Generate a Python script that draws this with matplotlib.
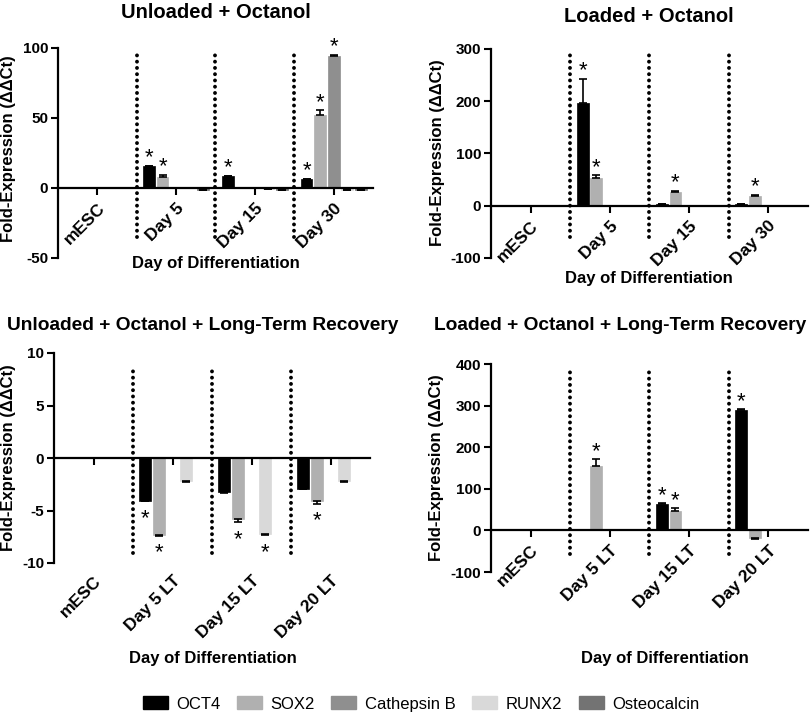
import matplotlib
matplotlib.use("Agg")
import matplotlib.pyplot as plt
from matplotlib.patches import Patch
import numpy as np

plt.rcParams['font.family'] = ['Liberation Sans', 'DejaVu Sans']

genes = ['OCT4', 'SOX2', 'Cathepsin B', 'RUNX2', 'Osteocalcin']
colors = ['#000000', '#b0b0b0', '#8f8f8f', '#d9d9d9', '#737373']

days_a = ['mESC', 'Day 5', 'Day 15', 'Day 30']
days_lt = ['mESC', 'Day 5 LT', 'Day 15 LT', 'Day 20 LT']

# Unloaded + Octanol (rows follow genes)
ul_vals = [[0, 15.5, 8.5, 6.5],
           [0, 8.0, 0, 52.0],
           [0, 0, 0, 94.5],
           [0, 0, -0.8, -1.2],
           [0, -1.2, -1.2, -1.2]]
ul_err = [[0, 0.3, 0.2, 0.2],
          [0, 1.5, 0, 3.5],
          [0, 0, 0, 0.6],
          [0, 0, 0.1, 0.1],
          [0, 0.1, 0.1, 0.1]]
ul_sig = [(1, 0), (1, 1), (2, 0), (3, 0), (3, 1), (3, 2)]

# Loaded + Octanol
lo_vals = [[0, 196, 3.5, 3.5],
           [0, 53, 27, 19],
           [0, 0, 0, 0],
           [0, 0, 0, 0],
           [0, 0, 0, 0]]
lo_err = [[0, 47, 0.3, 0.3],
          [0, 5, 1.5, 2],
          [0, 0, 0, 0],
          [0, 0, 0, 0],
          [0, 0, 0, 0]]
lo_sig = [(1, 0), (1, 1), (2, 1), (3, 1)]

# Unloaded + Octanol + Long-Term Recovery
ult_vals = [[0, -4.07, -3.24, -2.92],
            [0, -7.3, -5.85, -4.12],
            [0, 0, 0, 0],
            [0, -2.2, -7.25, -2.2],
            [0, 0, 0, 0]]
ult_err = [[0, 0.05, 0.05, 0.05],
           [0, 0.1, 0.25, 0.25],
           [0, 0, 0, 0],
           [0, 0.1, 0.1, 0.05],
           [0, 0, 0, 0]]
ult_sig = [(1, 0), (1, 1), (2, 1), (2, 3), (3, 1)]

# Loaded + Octanol + Long-Term Recovery
llt_vals = [[0, 0, 63, 290],
            [0, 154, 47, -18],
            [0, 0, 0, 0],
            [0, 0, 0, 0],
            [0, 0, 0, 0]]
llt_err = [[0, 0, 3, 2],
           [0, 17, 7, 2],
           [0, 0, 0, 0],
           [0, 0, 0, 0],
           [0, 0, 0, 0]]
llt_sig = [(1, 1), (2, 0), (2, 1), (3, 0)]

W, H = 812, 715


def px(x, y):
    return x / W, 1 - y / H


def axrect(x0, y0, x1, y1):
    return [x0 / W, 1 - y1 / H, (x1 - x0) / W, (y1 - y0) / H]


def draw_panel(ax, cats, vals, errs, sig, ylim, yticks, dots, pad):
    x = np.arange(len(cats))
    step, width = 0.172, 0.15
    for k in range(len(genes)):
        v = np.array(vals[k], dtype=float)
        e = np.array(errs[k], dtype=float)
        xs = x + (k - 2) * step
        ax.bar(xs, v, width, color=colors[k], edgecolor=colors[k], linewidth=0.5, zorder=2)
        lo = np.where(v < 0, e, 0)
        hi = np.where(v >= 0, e, 0)
        m = e > 0
        if m.any():
            ax.errorbar(xs[m], v[m], yerr=[lo[m], hi[m]], fmt='none', ecolor='black',
                        elinewidth=1.2, capsize=3, capthick=1.2, zorder=3)
    for g, k in sig:
        v = vals[k][g]
        e = errs[k][g]
        xs = g + (k - 2) * step
        if v >= 0:
            ax.annotate('*', (xs, v + e), xytext=(0, -2), textcoords='offset points',
                        ha='center', va='bottom', fontsize=16, zorder=4)
        else:
            ax.annotate('*', (xs, v - e), xytext=(0, -20), textcoords='offset points',
                        ha='center', va='bottom', fontsize=16, zorder=4)
    for d in [0.5, 1.5, 2.5]:
        ax.axvline(d, ymin=dots[0], ymax=dots[1], color='black', linewidth=2.8,
                   linestyle=(0, (0.01, 1.6)), dash_capstyle='round', zorder=1)
    ax.set_xlim(-0.5, 3.5)
    ax.set_ylim(*ylim)
    ax.spines['top'].set_visible(False)
    ax.spines['right'].set_visible(False)
    ax.spines['bottom'].set_position(('data', 0))
    ax.spines['left'].set_linewidth(1.6)
    ax.spines['bottom'].set_linewidth(1.6)
    ax.tick_params(axis='both', direction='out', length=5, width=1.5)
    ax.tick_params(axis='x', pad=pad)
    ax.tick_params(axis='y', pad=2)
    ax.set_yticks(yticks)
    ax.set_yticklabels([str(t) for t in yticks], fontsize=11, fontweight='bold')
    ax.set_xticks(x)
    ax.set_xticklabels(cats, fontsize=12.5, fontweight='bold')
    for lab in ax.get_xticklabels():
        lab.set_rotation(45)
        lab.set_rotation_mode('anchor')
        lab.set_ha('right')
        lab.set_va('top')


fig = plt.figure(figsize=(W / 100, H / 100), dpi=100)

ax1 = fig.add_axes(axrect(58, 48, 373, 258))
ax2 = fig.add_axes(axrect(491, 49, 808, 258))
ax3 = fig.add_axes(axrect(54, 353, 370, 563))
ax4 = fig.add_axes(axrect(491, 364, 808, 572))

draw_panel(ax1, days_a, ul_vals, ul_err, ul_sig, (-50, 100), [-50, 0, 50, 100], (0.10, 0.98), 4)
draw_panel(ax2, days_a, lo_vals, lo_err, lo_sig, (-100, 300), [-100, 0, 100, 200, 300], (0.10, 0.985), 4)
draw_panel(ax3, days_lt, ult_vals, ult_err, ult_sig, (-10, 10), [-10, -5, 0, 5, 10], (0.048, 0.93), 78)
draw_panel(ax4, days_lt, llt_vals, llt_err, llt_sig, (-100, 400), [-100, 0, 100, 200, 300, 400], (0.087, 0.976), 4)

titles = [('Unloaded + Octanol', 216, 12, 14.5),
          ('Loaded + Octanol', 649, 16, 14.5),
          ('Unloaded + Octanol + Long-Term Recovery', 203, 326, 13.8),
          ('Loaded + Octanol + Long-Term Recovery', 620, 326, 13.8)]
for t, x0, y0, fs in titles:
    fig.text(*px(x0, y0), t, ha='center', va='center', fontsize=fs, fontweight='bold')

for x0, y0 in [(216, 263), (649, 278), (213, 658), (665, 658)]:
    fig.text(*px(x0, y0), 'Day of Differentiation', ha='center', va='center',
             fontsize=12, fontweight='bold')

for x0, y0 in [(9, 149), (438, 153), (9, 458), (437, 468)]:
    fig.text(*px(x0, y0), 'Fold-Expression (ΔΔCt)', ha='center', va='center',
             rotation=90, fontsize=12, fontweight='bold')

handles = [Patch(facecolor=c, edgecolor=c) for c in colors]
fig.legend(handles, genes, loc='center', bbox_to_anchor=px(421, 704), ncol=5,
           frameon=False, fontsize=12, handlelength=1.5, handleheight=0.8,
           handletextpad=0.5, columnspacing=1.0)

fig.savefig('out.png', dpi=100)
